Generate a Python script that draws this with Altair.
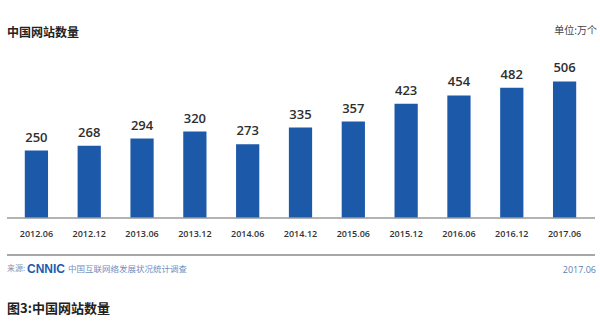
import altair as alt
import pandas as pd

periods = ["2012.06", "2012.12", "2013.06", "2013.12", "2014.06", "2014.12",
           "2015.06", "2015.12", "2016.06", "2016.12", "2017.06"]
sites = [250, 268, 294, 320, 273, 335, 357, 423, 454, 482, 506]

title_text = "中国网站数量"
unit_text = "单位:万个"
source_prefix = "来源:"
source_logo = "CNNIC"
source_text = "中国互联网络发展状况统计调查"
date_text = "2017.06"
caption_text = "图3:中国网站数量"

df = pd.DataFrame({"period": periods, "sites": sites})

W, H = 581, 162
CJK = "Noto Sans CJK SC"

x = alt.X("period:N", sort=periods,
          scale=alt.Scale(paddingInner=0.56, paddingOuter=0.28),
          axis=alt.Axis(title=None, ticks=False, domain=False, labelAngle=0,
                        labelFontSize=9, labelPadding=11, labelColor="#333333",
                        labelFont="Open Sans", labelFontWeight=600))
y = alt.Y("sites:Q", scale=alt.Scale(domain=[0, 600]), axis=None)

bars = alt.Chart(df).mark_bar(color="#1d59a9").encode(x=x, y=y)
labels = alt.Chart(df).mark_text(baseline="alphabetic", dy=-9, fontSize=13,
                                 color="#2e2e2e", font="Open Sans",
                                 fontWeight=600).encode(
    x=x, y=y, text="sites:Q")


def rule(ypix, color, width):
    return alt.Chart(pd.DataFrame({"k": [0]})).mark_rule(
        color=color, strokeWidth=width).encode(
        x=alt.value(-3), x2=alt.value(585), y=alt.value(ypix))


def note(text, xpix, ypix, size, color, weight="normal", align="left", font=CJK):
    return alt.Chart(pd.DataFrame({"t": [text]})).mark_text(
        align=align, baseline="middle", fontSize=size, color=color,
        fontWeight=weight, font=font).encode(
        x=alt.value(xpix), y=alt.value(ypix), text="t:N")


layers = [
    bars, labels,
    rule(162, "#9a9a9a", 1.5),
    rule(199, "#8a8a8a", 1.5),
    note(title_text, -3, -23, 12, "#222222", "bold"),
    note(unit_text, 587, -25, 10, "#444444", align="right"),
    note(source_prefix, -3, 213, 8, "#7d95b5"),
    note(source_logo, 17, 213, 12, "#1c5cb0", "bold", font="Liberation Sans"),
    note(source_text, 58, 213, 8.5, "#6f8fbf"),
    note(date_text, 586, 214, 9, "#5b82b0", align="right", font="Open Sans"),
    note(caption_text, -3, 253, 13, "#222222", "bold"),
]

chart = alt.layer(*layers).properties(
    width=W, height=H,
    autosize=alt.AutoSizeParams(type="none"),
    padding={"left": 10, "top": 56, "right": 9, "bottom": 111},
    background="white",
).configure_view(stroke=None)

chart.save("out.html", embed_options={"renderer": "svg", "actions": False})
